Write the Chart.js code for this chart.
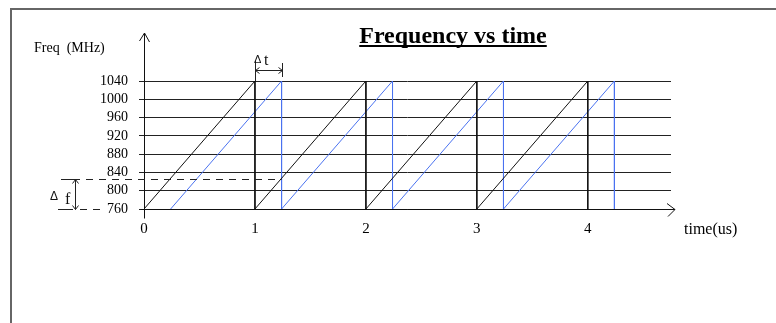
<!DOCTYPE html>
<html>
<head>
<meta charset="utf-8">
<script src="https://cdn.jsdelivr.net/npm/chart.js@4/dist/chart.umd.min.js"></script>
<style>
  html, body { margin: 0; padding: 0; background: #fff; }
  canvas { display: block; }
</style>
</head>
<body>
<canvas id="c" width="776" height="323"></canvas>
<script>
// Transmitted sweep: linear ramp each microsecond, then drop back
const sweepTimes = [0, 1, 1, 2, 2, 3, 3, 4, 4];
const sweepFreqs = [760, 1040, 760, 1040, 760, 1040, 760, 1040, 760];
// Received sweep: the same ramp, delayed by Δt
const echoTimes = [0.24, 1.24, 1.24, 2.24, 2.24, 3.24, 3.24, 4.24, 4.24];
const echoFreqs = [760, 1040, 760, 1040, 760, 1040, 760, 1040, 760];
// Axis ticks
const freqTicks = [760, 800, 840, 880, 920, 960, 1000, 1040];
const timeTicks = [0, 1, 2, 3, 4];
const timeMax = 4.75;
// Frequency reached by the sweep after Δt (top of the Δf bracket)
const deltaFreq = 825;

const serif = "'Liberation Serif', 'Times New Roman', serif";
const sans = "'Liberation Sans', Arial, sans-serif";

function arrowHead(ctx, tx, ty, ax, ay, bx, by) {
  ctx.beginPath();
  ctx.moveTo(ax, ay); ctx.lineTo(tx, ty); ctx.lineTo(bx, by);
  ctx.stroke();
}

const sketchPlugin = {
  id: 'sketch',
  afterDraw(chart) {
    const { ctx, scales: { x, y }, chartArea: a } = chart;
    ctx.save();

    // page frame
    ctx.strokeStyle = '#666';
    ctx.lineWidth = 2;
    ctx.beginPath();
    ctx.moveTo(11, 323); ctx.lineTo(11, 9); ctx.lineTo(776, 9);
    ctx.stroke();

    const x0 = Math.round(x.getPixelForValue(0)) + 0.5;
    const y0 = Math.round(y.getPixelForValue(freqTicks[0])) + 0.5;

    // axes with arrow heads
    ctx.strokeStyle = '#111';
    ctx.lineWidth = 1;
    ctx.beginPath();
    ctx.moveTo(x0, y0 + 9); ctx.lineTo(x0, 33);
    ctx.moveTo(x0 - 4, y0); ctx.lineTo(a.right + 4, y0);
    ctx.stroke();
    arrowHead(ctx, x0, 33, x0 - 5, 41, x0 + 5, 42);
    arrowHead(ctx, a.right + 4, y0, a.right - 4, y0 - 6, a.right - 3, y0 + 7);

    // Δf bracket
    const yf = Math.round(y.getPixelForValue(deltaFreq)) + 0.5;
    const xEcho = x.getPixelForValue(echoTimes[1]);
    ctx.strokeStyle = '#222';
    ctx.beginPath();
    ctx.moveTo(61, yf); ctx.lineTo(80, yf);
    ctx.moveTo(58, y0); ctx.lineTo(73, y0);
    ctx.stroke();
    ctx.setLineDash([7, 6]);
    ctx.beginPath();
    ctx.moveTo(86, yf); ctx.lineTo(xEcho, yf);
    ctx.moveTo(80, y0); ctx.lineTo(100, y0);
    ctx.stroke();
    ctx.setLineDash([]);
    const xf = 75.5;
    ctx.beginPath();
    ctx.moveTo(xf, yf); ctx.lineTo(xf, y0);
    ctx.stroke();
    arrowHead(ctx, xf, yf, xf - 3, yf + 4, xf + 3, yf + 4);
    arrowHead(ctx, xf, y0, xf - 3, y0 - 4, xf + 3, y0 - 4);
    ctx.fillStyle = '#111';
    ctx.textBaseline = 'alphabetic';
    ctx.textAlign = 'left';
    ctx.font = '12px ' + sans;
    ctx.fillText('Δ', 50, 200);
    ctx.font = '16px ' + serif;
    ctx.fillText('f', 65, 204);

    // Δt bracket
    const xa = Math.round(x.getPixelForValue(sweepTimes[1])) + 0.5;
    const xb = Math.round(x.getPixelForValue(echoTimes[1])) + 0.5;
    const yt = Math.round(y.getPixelForValue(freqTicks[freqTicks.length - 1]));
    ctx.beginPath();
    ctx.moveTo(xa, 61); ctx.lineTo(xa, yt);
    ctx.moveTo(xb, 63); ctx.lineTo(xb, 77);
    ctx.moveTo(xa, 70.5); ctx.lineTo(xb, 70.5);
    ctx.stroke();
    arrowHead(ctx, xa, 70.5, xa + 4, 67.5, xa + 4, 73.5);
    arrowHead(ctx, xb, 70.5, xb - 4, 67.5, xb - 4, 73.5);
    ctx.font = '11px ' + sans;
    ctx.fillText('Δ', 254, 63);
    ctx.font = '16px ' + serif;
    ctx.fillText('t', 264, 65);

    // title
    ctx.fillStyle = '#000';
    ctx.font = 'bold 24px ' + serif;
    ctx.textAlign = 'center';
    const title = 'Frequency vs time';
    const tw = ctx.measureText(title).width;
    ctx.fillText(title, 453, 43);
    ctx.fillRect(453 - tw / 2, 45, tw, 2);

    // axis titles
    ctx.textAlign = 'left';
    ctx.textBaseline = 'middle';
    ctx.font = '14px ' + serif;
    ctx.fillText('Freq  (MHz)', 34, 48);
    ctx.font = '16px ' + serif;
    ctx.fillText('time(us)', 684, 230);

    ctx.restore();
  }
};

new Chart(document.getElementById('c'), {
  type: 'line',
  data: {
    datasets: [
      {
        label: 'Transmitted',
        data: sweepTimes.map((t, i) => ({ x: t, y: sweepFreqs[i] })),
        borderColor: '#111',
        borderWidth: 1,
        pointRadius: 0,
        tension: 0
      },
      {
        label: 'Received',
        data: echoTimes.map((t, i) => ({ x: t, y: echoFreqs[i] })),
        borderColor: '#4a72f0',
        borderWidth: 1,
        pointRadius: 0,
        tension: 0
      }
    ]
  },
  options: {
    responsive: false,
    animation: false,
    devicePixelRatio: 1,
    layout: { padding: { left: 0, top: 81, right: 105, bottom: 0 } },
    plugins: {
      legend: { display: false },
      tooltip: { enabled: false },
      title: { display: false }
    },
    scales: {
      x: {
        type: 'linear',
        min: 0,
        max: timeMax,
        afterBuildTicks: s => { s.ticks = timeTicks.map(v => ({ value: v })); },
        afterFit: s => { s.height = 114; },
        grid: { display: false, drawTicks: false },
        border: { display: false },
        ticks: {
          padding: 11,
          color: '#000',
          maxRotation: 0,
          autoSkip: false,
          callback: v => String(v),
          font: { family: serif, size: 15 }
        }
      },
      y: {
        type: 'linear',
        min: freqTicks[0],
        max: freqTicks[freqTicks.length - 1],
        afterBuildTicks: s => { s.ticks = freqTicks.map(v => ({ value: v })); },
        afterFit: s => { s.width = 144; },
        grid: { color: '#222', lineWidth: 1, tickLength: 5, drawTicks: true },
        border: { display: false },
        ticks: {
          padding: 11,
          color: '#000',
          autoSkip: false,
          callback: v => String(v),
          font: { family: serif, size: 14 }
        }
      }
    }
  },
  plugins: [sketchPlugin]
});
</script>
</body>
</html>
